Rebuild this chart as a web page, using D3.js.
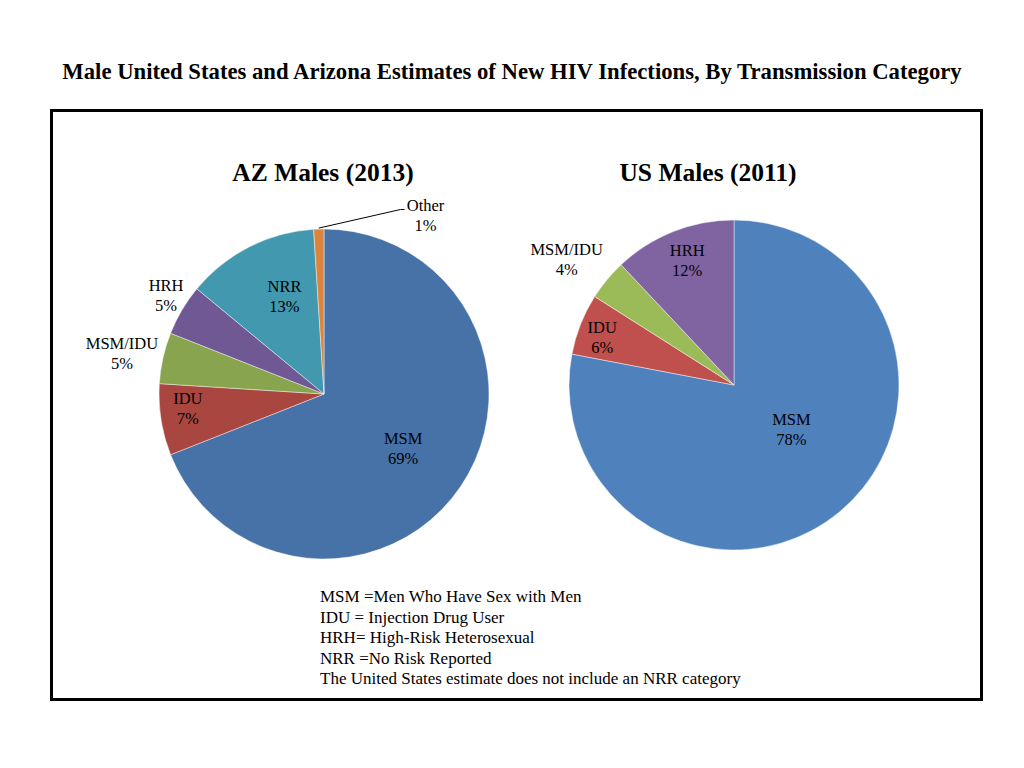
<!DOCTYPE html>
<html>
<head>
<meta charset="utf-8">
<script src="https://cdn.jsdelivr.net/npm/d3@7"></script>
<style>
  body { margin: 0; background: #fff; }
  text { font-family: "Liberation Serif", "Times New Roman", serif; fill: #000; }
</style>
</head>
<body>
<div id="wrapper"></div>
<script>
// data
const azCategories = ["MSM", "IDU", "MSM/IDU", "HRH", "NRR", "Other"]
const azValues = [69, 7, 5, 5, 13, 1]
const usCategories = ["MSM", "IDU", "MSM/IDU", "HRH"]
const usValues = [78, 6, 4, 12]
const legendLines = [
  "MSM =Men Who Have Sex with Men",
  "IDU = Injection Drug User",
  "HRH= High-Risk Heterosexual",
  "NRR =No Risk Reported",
  "The United States estimate does not include an NRR category",
]

// colours
const azColors = ["#4672a8", "#a9463f", "#88a44e", "#6f5893", "#4198af", "#db843d"]
const usColors = ["#4f81bd", "#c0504d", "#9bbb59", "#8064a2"]

// label placement: radius as a fraction of pie radius, plus angle nudge (degrees)
const azLabelLayout = [
  { k: 0.58, dA: 0 }, { k: 0.83, dA: 3 }, { k: 1.25, dA: -1 },
  { k: 1.13, dA: 1.5 }, { k: 0.64, dA: 5 }, { k: 1.25, dA: 31.3, leader: true },
]
const usLabelLayout = [
  { k: 0.44, dA: -12.7 }, { k: 0.85, dA: -1.6 }, { k: 1.27, dA: -2.6 }, { k: 0.81, dA: 1.1 },
]

const dimensions = { width: 1024, height: 768, radius: 165 }

const svg = d3.select("#wrapper")
  .append("svg")
  .attr("width", dimensions.width)
  .attr("height", dimensions.height)

svg.append("text")
  .attr("x", 512)
  .attr("y", 79)
  .attr("text-anchor", "middle")
  .style("font-size", "22.7px")
  .style("font-weight", "bold")
  .text("Male United States and Arizona Estimates of New HIV Infections, By Transmission Category")

svg.append("rect")
  .attr("x", 51.5)
  .attr("y", 110.5)
  .attr("width", 930)
  .attr("height", 589)
  .attr("fill", "none")
  .attr("stroke", "#000")
  .attr("stroke-width", 3)

const pie = d3.pie().sort(null).value(d => d.value)
const arc = d3.arc().innerRadius(0).outerRadius(dimensions.radius)

function drawPie(cx, cy, title, titleX, categories, values, colors, layout) {
  const data = categories.map((c, i) => ({ name: c, value: values[i] }))
  const arcs = pie(data)
  const total = d3.sum(values)

  svg.append("text")
    .attr("x", titleX)
    .attr("y", 181)
    .attr("text-anchor", "middle")
    .style("font-size", "25.5px")
    .style("font-weight", "bold")
    .text(title)

  const g = svg.append("g").attr("transform", `translate(${cx},${cy})`)

  g.selectAll("path")
    .data(arcs)
    .join("path")
    .attr("d", arc)
    .attr("fill", (d, i) => colors[i])
    .attr("stroke", "rgba(255,255,255,0.55)")
    .attr("stroke-width", 0.8)

  arcs.forEach((d, i) => {
    const lay = layout[i]
    const mid = (d.startAngle + d.endAngle) / 2 + lay.dA * Math.PI / 180
    const r = dimensions.radius * lay.k
    const x = r * Math.sin(mid)
    const y = -r * Math.cos(mid)
    const pct = Math.round(d.data.value / total * 100) + "%"

    if (lay.leader) {
      const a0 = (d.startAngle + d.endAngle) / 2
      const sx = (dimensions.radius + 1) * Math.sin(a0)
      const sy = -(dimensions.radius + 1) * Math.cos(a0)
      g.append("polyline")
        .attr("points", `${sx},${sy} ${x - 25},${y - 5} ${x - 21},${y - 5}`)
        .attr("fill", "none")
        .attr("stroke", "#000")
        .attr("stroke-width", 1)
    }

    const t = g.append("text")
      .attr("text-anchor", "middle")
      .style("font-size", "16.5px")
    t.append("tspan").attr("x", x).attr("y", y - 4).text(d.data.name)
    t.append("tspan").attr("x", x).attr("y", y + 16).text(pct)
  })
}

drawPie(324, 394, "AZ Males (2013)", 323, azCategories, azValues, azColors, azLabelLayout)
drawPie(734, 385, "US Males (2011)", 708, usCategories, usValues, usColors, usLabelLayout)

svg.append("g")
  .selectAll("text")
  .data(legendLines)
  .join("text")
  .attr("x", 320)
  .attr("y", (d, i) => 602 + i * 20.5)
  .style("font-size", "17px")
  .text(d => d)
</script>
</body>
</html>
